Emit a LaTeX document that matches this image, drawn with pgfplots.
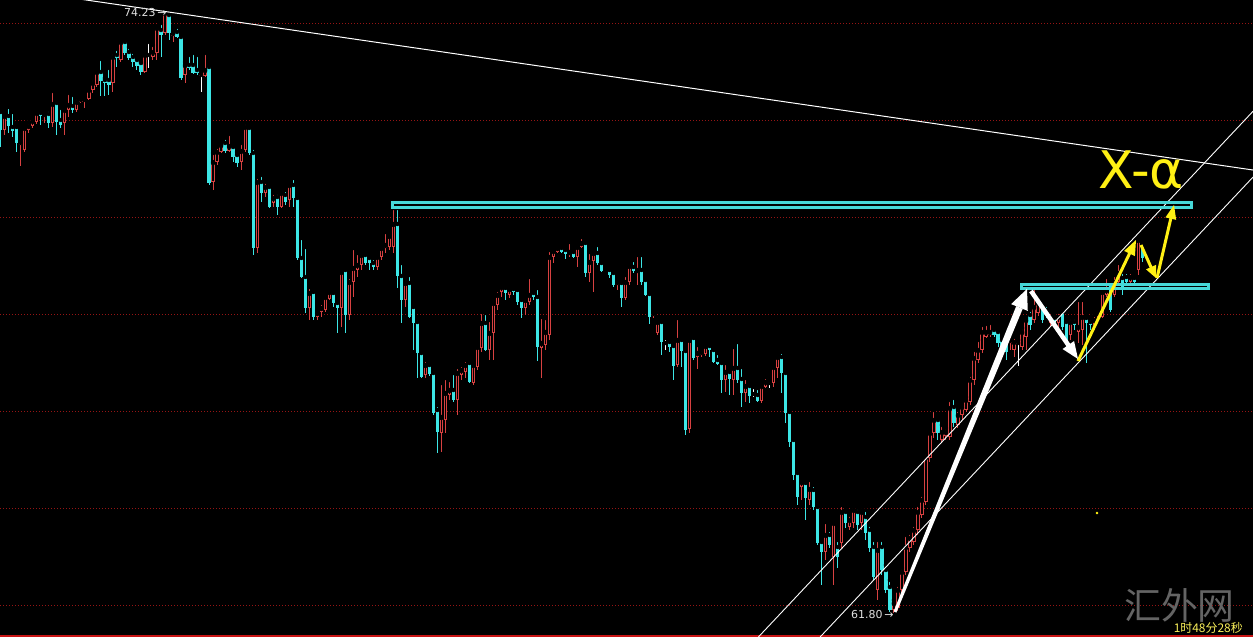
\documentclass[border=0pt]{standalone}
\usepackage{pgfplots}
\pgfplotsset{compat=1.18}
\usepackage{pgfplotstable}
\usepackage{fontspec}
\setmainfont{DejaVu Sans}
\newfontfamily\cjk{Noto Sans CJK SC}
\definecolor{cy}{RGB}{60,230,230}
\definecolor{rd}{RGB}{215,65,65}
\definecolor{rectc}{RGB}{70,215,215}
\definecolor{yl}{RGB}{255,240,20}
\definecolor{gridred}{RGB}{150,20,20}
\definecolor{botred}{RGB}{200,20,20}

% candle data in screen pixels: bt = body top, bb = body bottom, h = high, l = low, u: 1 up(red) 0 down(cyan) 2 doji(white)
\pgfplotstableread{
i bt bb h l u
0 112 130 110 147 0
1 116 130 112 135 1
2 116 126 107 133 0
3 127 131 112 137 0
4 127 143 125 152 0
5 142 145 140 166 1
6 128 150 125 152 1
7 126 130 122 133 1
8 121 126 118 128 1
9 113 122 111 124 1
10 113 116 110 125 0
11 114 115 112 123 1
12 114 123 110 128 0
13 104 123 91 127 1
14 103 122 101 135 0
15 120 125 108 128 0
16 110 123 107 135 1
17 105 110 93 117 1
18 106 110 95 113 0
19 102 110 98 112 1
20 99 102 97 103 1
21 99 101 97 108 1
22 90 99 87 100 1
23 83 90 79 93 1
24 72 85 70 87 1
25 72 81 59 96 0
26 80 83 78 96 0
27 80 85 68 95 0
28 57 83 53 92 1
29 55 58 49 67 0
30 42 60 40 62 1
31 42 53 40 55 0
32 52 58 47 60 0
33 57 62 52 67 0
34 60 66 58 70 0
35 63 72 62 75 0
36 55 72 53 73 1
37 55 56 42 68 2
38 52 57 45 60 1
39 28 53 27 60 1
40 30 35 23 57 0
41 13 33 12 35 1
42 15 33 13 40 0
43 33 36 32 42 1
44 32 37 27 38 0
45 37 78 35 80 0
46 65 75 62 83 1
47 65 68 55 70 0
48 65 73 53 74 0
49 70 73 55 75 0
50 75 76 72 92 2
51 70 76 53 77 1
52 67 183 65 185 0
53 162 182 153 190 1
54 152 162 147 165 1
55 145 152 143 153 1
56 143 151 138 153 0
57 146 151 134 152 1
58 147 157 145 162 0
59 155 163 152 167 0
60 151 162 143 170 1
61 127 150 123 152 1
62 128 153 127 155 0
63 153 248 148 255 0
64 182 248 177 253 1
65 182 193 175 202 0
66 187 193 182 197 1
67 187 207 185 208 0
68 198 203 193 207 1
69 197 207 193 215 0
70 193 207 192 208 1
71 195 202 190 205 0
72 185 200 182 207 1
73 185 198 178 207 0
74 198 258 197 260 0
75 258 277 238 278 0
76 277 308 247 313 0
77 293 308 287 320 1
78 292 317 290 320 0
79 313 317 310 320 1
80 308 312 303 317 1
81 297 310 295 312 1
82 292 299 288 300 1
83 293 303 292 307 0
84 303 308 301 333 0
85 272 308 270 327 1
86 270 315 268 333 0
87 282 315 277 320 1
88 268 282 248 297 1
89 265 270 253 277 1
90 255 265 253 270 1
91 255 263 253 265 0
92 258 263 256 270 0
93 263 267 258 270 0
94 257 267 255 270 1
95 248 257 245 260 1
96 245 248 232 253 1
97 236 247 233 250 1
98 224 247 208 253 1
99 224 276 208 288 0
100 276 300 263 323 0
101 283 300 281 307 1
102 283 317 275 318 0
103 307 323 305 350 0
104 322 353 320 378 0
105 353 377 352 378 0
106 365 375 360 378 1
107 365 374 362 376 0
108 373 413 370 415 0
109 410 432 405 453 0
110 417 433 383 452 1
111 393 420 378 433 1
112 390 395 380 400 1
113 390 400 373 402 0
114 373 400 367 415 1
115 370 375 365 380 1
116 365 372 360 378 1
117 363 382 360 383 0
118 365 383 362 385 1
119 347 367 345 370 1
120 323 348 312 352 1
121 323 350 313 351 0
122 333 350 320 360 1
123 303 333 300 360 1
124 295 305 290 310 1
125 287 292 285 297 1
126 288 293 285 300 0
127 289 295 287 298 1
128 289 292 285 295 0
129 290 302 287 305 0
130 300 308 298 318 0
131 300 308 297 315 1
132 295 302 277 305 1
133 293 297 290 300 0
134 297 347 288 361 0
135 343 348 317 378 1
136 332 345 318 350 1
137 257 335 250 340 1
138 251 257 248 263 1
139 248 252 246 253 1
140 248 252 247 253 0
141 250 254 247 259 0
142 252 253 242 257 1
143 252 257 249 258 0
144 247 257 243 267 1
145 243 247 237 248 1
146 243 273 240 277 0
147 262 273 252 282 1
148 253 261 252 292 1
149 253 263 245 265 0
150 263 271 260 272 0
151 269 270 267 271 2
152 270 275 267 278 0
153 273 285 270 287 0
154 282 285 280 290 1
155 283 298 282 307 0
156 282 298 275 300 1
157 266 282 263 285 1
158 267 271 260 273 0
159 270 272 255 285 1
160 270 282 255 285 0
161 280 295 278 296 0
162 294 317 292 324 0
163 313 316 312 318 1
164 322 333 320 335 1
165 322 342 320 355 0
166 343 344 338 350 2
167 342 347 338 352 0
168 346 366 345 380 0
169 340 365 318 367 1
170 340 351 337 367 0
171 351 430 350 435 0
172 340 429 338 433 1
173 338 358 335 360 0
174 353 357 345 369 1
175 352 355 350 357 1
176 346 354 343 356 1
177 346 350 345 357 0
178 350 362 348 363 0
179 360 364 353 365 0
180 363 380 362 393 0
181 372 380 363 392 1
182 372 379 370 395 0
183 368 380 347 395 1
184 368 380 342 383 0
185 379 393 367 407 0
186 386 393 378 402 1
187 386 396 385 403 0
188 394 395 387 397 2
189 395 401 388 402 0
190 386 401 385 403 1
191 382 387 377 388 1
192 383 384 379 388 2
193 367 383 365 387 1
194 357 368 353 378 1
195 357 373 352 393 0
196 373 413 372 423 0
197 412 442 410 447 0
198 440 475 438 480 0
199 473 497 470 505 0
200 482 487 478 500 1
201 483 498 480 520 0
202 489 500 480 505 1
203 490 507 485 510 0
204 507 543 505 545 0
205 542 552 540 585 0
206 535 552 522 560 1
207 535 545 530 548 0
208 523 557 520 585 1
209 547 557 540 568 0
210 512 543 505 548 1
211 512 523 510 528 0
212 520 527 515 530 1
213 510 523 507 528 1
214 512 525 508 530 0
215 512 523 510 530 1
216 517 533 510 540 0
217 530 548 525 552 0
218 547 577 540 580 0
219 550 590 540 600 1
220 547 570 540 575 0
221 570 590 565 593 0
222 587 610 580 612 0
223 603 610 600 613 1
224 590 608 585 611 1
225 572 590 568 595 1
226 547 572 535 575 1
227 538 548 533 552 1
228 530 542 525 545 1
229 512 530 505 535 1
230 500 515 495 518 1
231 457 502 453 505 1
232 433 458 430 462 1
233 420 433 410 438 1
234 420 433 418 440 0
235 432 440 425 442 1
236 432 436 428 440 1
237 408 437 400 440 1
238 407 423 398 427 0
239 415 425 410 428 1
240 407 415 405 420 1
241 400 410 397 412 1
242 380 402 375 405 1
243 358 380 350 385 1
244 350 360 340 363 1
245 332 350 325 353 1
246 332 337 324 338 1
247 332 335 323 337 1
248 330 335 327 337 0
249 332 343 330 347 0
250 340 347 337 353 0
251 343 352 340 360 0
252 340 343 335 350 1
253 342 350 337 357 1
254 343 344 340 366 2
255 332 347 328 350 1
256 320 337 318 350 1
257 315 325 310 330 0
258 307 320 288 323 1
259 303 313 298 316 1
260 305 320 302 323 0
261 310 313 305 318 0
262 317 323 312 327 1
263 318 325 315 327 0
264 317 323 312 327 1
265 312 327 310 330 0
266 322 343 320 347 0
267 322 335 318 340 1
268 322 325 318 330 0
269 327 332 300 343 1
270 317 330 300 345 1
271 318 323 316 363 0
272 322 325 318 330 0
273 320 325 315 330 1
274 313 318 310 320 1
275 292 317 290 318 1
276 290 295 277 297 1
277 283 310 282 312 0
278 282 295 275 297 1
279 273 282 263 283 1
280 278 287 272 295 0
281 277 282 272 285 0
282 277 282 272 283 1
283 278 282 276 283 0
284 240 270 236 275 1
285 247 258 245 262 0
}\candles

\pgfplotsset{
  scr/.style={at={(0,0)}, anchor=south west, x=1bp, y=1bp,
    xmin=0, xmax=1253, ymin=0, ymax=637, y dir=reverse,
    hide axis, clip=true},
  cwick/.style n args={2}{only marks, mark=none, forget plot,
    restrict expr to domain={\thisrow{u}}{#1},
    error bars/.cd, y dir=plus, y explicit, error mark=none,
    error bar style={draw=#2, line width=1bp, solid}},
  cbody/.style n args={3}{only marks, mark=none, forget plot,
    restrict expr to domain={\thisrow{u}}{#1},
    error bars/.cd, y dir=plus, y explicit, error mark=none,
    error bar style={draw=#2, line width=#3, solid}},
}

\begin{document}
\begin{tikzpicture}
\path[fill=black, use as bounding box] (0,0) rectangle (1253bp,637bp);
% ---- layer 1: grid and candles
\begin{axis}[scr]
\pgfplotsinvokeforeach{23,120,217,314,411,508,605}{
  \addplot[gridred, line width=1bp, dash pattern=on 1bp off 2bp, forget plot] coordinates {(0,#1) (1253,#1)};
}
\addplot[botred, line width=2bp, solid, forget plot] coordinates {(0,636) (1253,636)};
% wicks
\addplot[cwick={0.5:1.5}{rd}] table[x expr=0.8+4.005*\thisrow{i}, y=h, y error expr=\thisrow{l}-\thisrow{h}] {\candles};
\addplot[cwick={-0.5:0.5}{cy}] table[x expr=0.8+4.005*\thisrow{i}, y=h, y error expr=\thisrow{l}-\thisrow{h}] {\candles};
\addplot[cwick={1.5:2.5}{white}] table[x expr=0.8+4.005*\thisrow{i}, y=h, y error expr=\thisrow{l}-\thisrow{h}] {\candles};
% bodies
\addplot[cbody={0.5:1.5}{rd}{3.2bp}] table[x expr=0.8+4.005*\thisrow{i}, y=bt, y error expr={max(\thisrow{bb}-\thisrow{bt},1)}] {\candles};
\addplot[cbody={0.5:1.5}{black}{1.2bp}] table[x expr=0.8+4.005*\thisrow{i}, y expr=\thisrow{bt}+1, y error expr={max(\thisrow{bb}-\thisrow{bt}-2,0)}] {\candles};
\addplot[cbody={-0.5:0.5}{cy}{3.2bp}] table[x expr=0.8+4.005*\thisrow{i}, y=bt, y error expr={max(\thisrow{bb}-\thisrow{bt},1)}] {\candles};
\addplot[cbody={1.5:2.5}{white}{3.2bp}] table[x expr=0.8+4.005*\thisrow{i}, y=bt, y error expr={max(\thisrow{bb}-\thisrow{bt},1)}] {\candles};
\end{axis}
% ---- layer 2: drawings on top
\begin{axis}[scr]
% trend lines
\addplot[white, solid, line width=1bp] coordinates {(80,-0.9) (1253,170)};
\addplot[white, solid, line width=0.9bp] coordinates {(758.4,637) (1253,111.3)};
\addplot[white, solid, line width=0.9bp] coordinates {(820.1,637) (1253,177.1)};
% cyan level boxes
\addplot[rectc, solid, line width=3bp, line cap=rect, line join=miter] coordinates {(392.5,202.5) (1191.5,202.5) (1191.5,207.5) (392.5,207.5) (392.5,202.5)};
\addplot[rectc, solid, line width=2.7bp, line cap=rect, line join=miter] coordinates {(1021.3,284.7) (1208.7,284.7) (1208.7,288.6) (1021.3,288.6) (1021.3,284.7)};
% arrows: shafts (the first one widens towards its head)
\addplot[fill=white, draw=none] coordinates {(896.39,612.57) (1022.68,308.83) (1016.20,306.19) (893.61,611.43)};
\addplot[white, solid, line width=4.5bp] coordinates {(1031,291) (1069.2,346.3)};
\addplot[yl, solid, line width=3bp] coordinates {(1078,361) (1130.0,252.5)};
\addplot[yl, solid, line width=3bp] coordinates {(1141,245) (1151.4,268.0)};
\addplot[yl, solid, line width=3bp] coordinates {(1157,278) (1171.0,217.7)};
% arrows: heads
\addplot[fill=white, draw=none] coordinates {(1027,289) (1027.77,310.91) (1011.11,304.11)};
\addplot[fill=white, draw=none] coordinates {(1078,359) (1074.09,341.04) (1062.57,349.00)};
\addplot[fill=yl, draw=none] coordinates {(1136,240) (1134.93,256.12) (1124.11,250.93)};
\addplot[fill=yl, draw=none] coordinates {(1156,278) (1156.04,264.80) (1146.02,269.36)};
\addplot[fill=yl, draw=none] coordinates {(1174,205) (1176.18,219.88) (1165.46,217.40)};
\addplot[only marks, mark=*, mark size=1bp, yl] coordinates {(1097,513)};
% texts
\node[anchor=west, inner sep=0, text=black!12!white, font=\fontsize{11}{12}\selectfont] at (axis cs:124,12.5) {74.23\,→};
\node[anchor=west, inner sep=0, text=black!12!white, font=\fontsize{11}{12}\selectfont] at (axis cs:851,615) {61.80\,→};
\node[anchor=base west, inner sep=0, text=yl, font=\fontsize{52}{52}\selectfont] at (axis cs:1098,188) {X-α};
\node[anchor=west, inner sep=0, text={rgb,255:red,100;green,100;blue,100}] at (axis cs:1124,605) {\cjk\fontsize{37}{37}\selectfont 汇外网};
\node[anchor=east, inner sep=0, text={rgb,255:red,250;green,240;blue,90}] at (axis cs:1243,627.5) {\cjk\fontsize{12}{12}\selectfont 1时48分28秒};
\end{axis}
\end{tikzpicture}
\end{document}
